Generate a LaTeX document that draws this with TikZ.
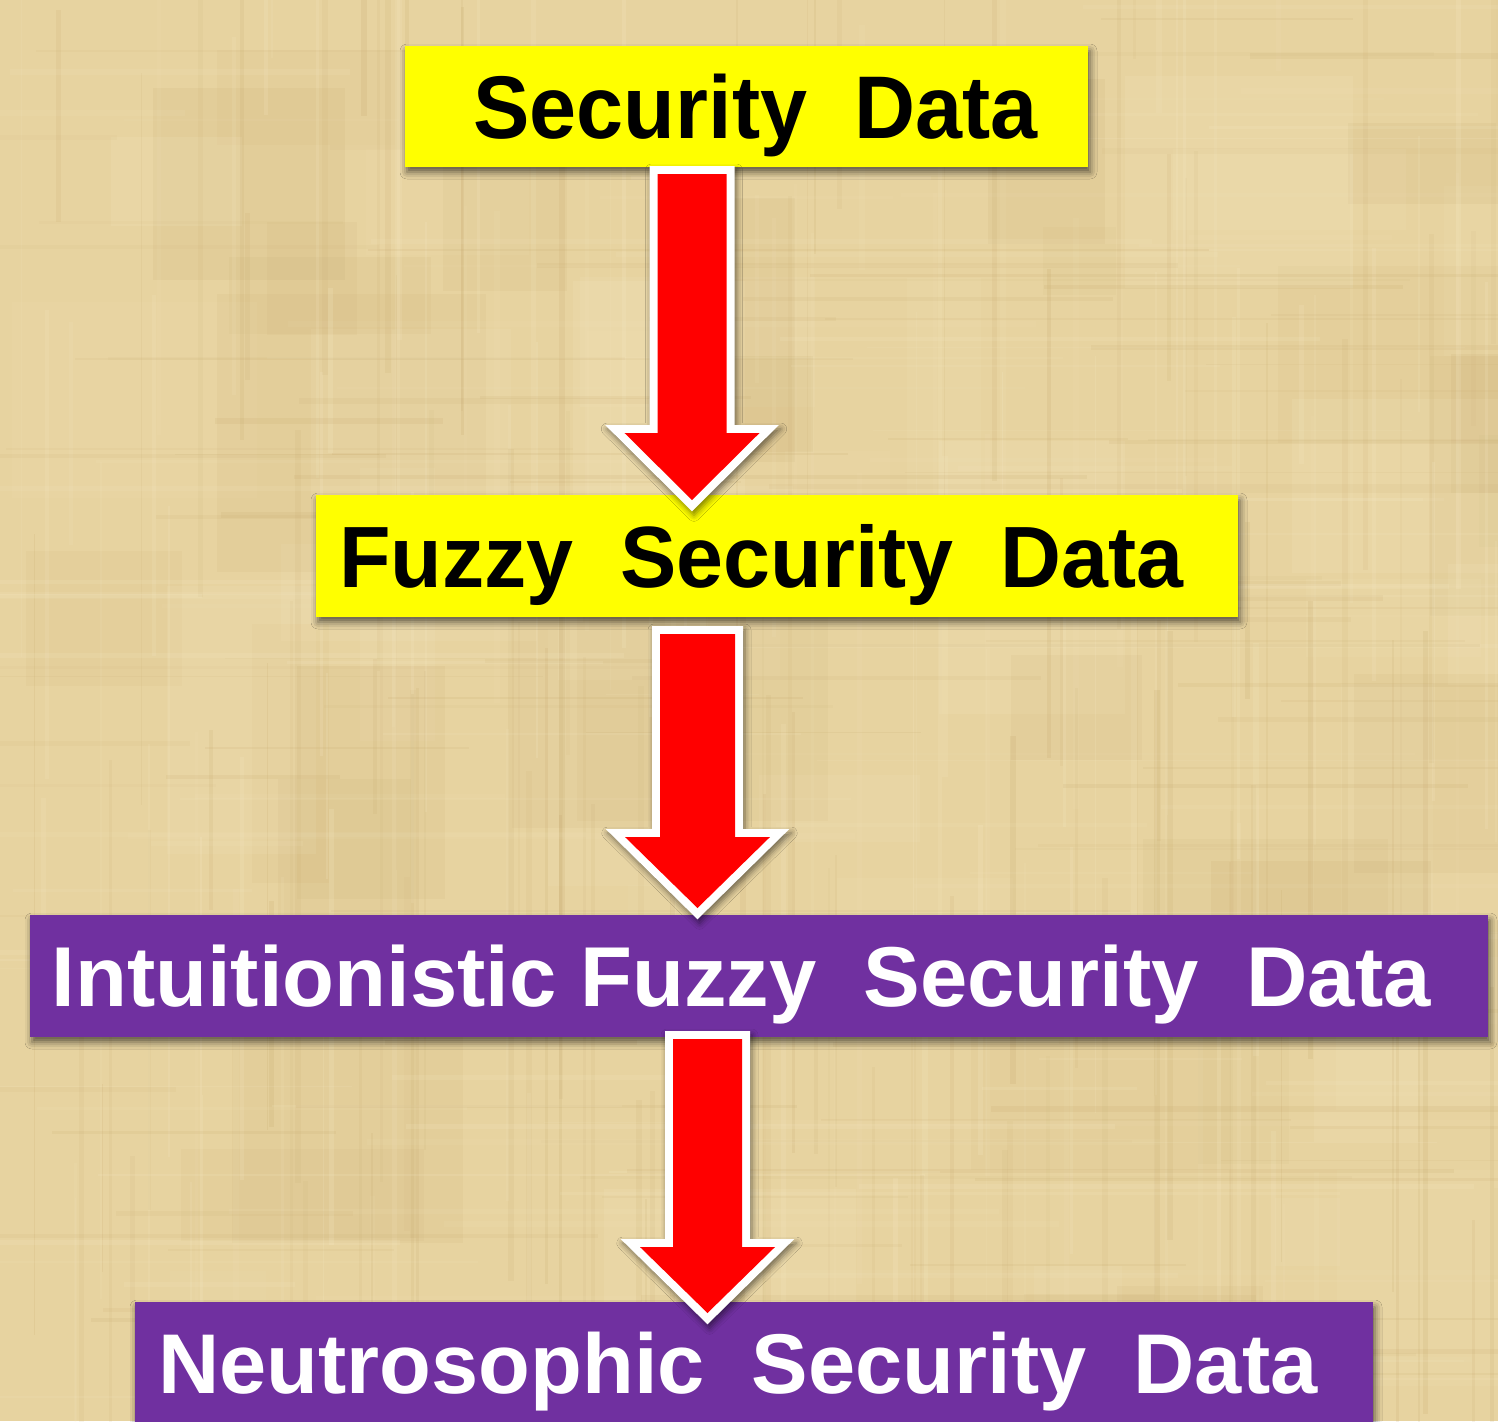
\documentclass[tikz,border=0pt]{standalone}
\usepackage{fontspec}
\setmainfont{Liberation Sans}
\newfontfamily\narrowA[FakeStretch=0.95]{Liberation Sans}
\newfontfamily\narrowB[FakeStretch=0.97]{Liberation Sans}
\usetikzlibrary{shadows.blur}

\definecolor{paper}{RGB}{231,211,160}
\definecolor{paperdark}{RGB}{196,166,106}
\definecolor{paperlight}{RGB}{249,238,204}
\definecolor{boxyellow}{RGB}{255,255,0}
\definecolor{boxpurple}{RGB}{112,48,160}
\definecolor{arrowred}{RGB}{255,0,0}

% block arrow: centre x, top, head base, tip, half shaft width, half head width
\newcommand\blockarrow[6]{%
  \fill[white, blur shadow={shadow xshift=1pt, shadow yshift=-2pt,
        shadow blur radius=3pt, shadow opacity=50}]
    ({#1-#5-8},{#2-8}) -- ({#1-#5-8},{#3-8}) -- ({#1-#6-19.3},{#3-8})
    -- (#1,{#4+11.3}) -- ({#1+#6+19.3},{#3-8}) -- ({#1+#5+8},{#3-8})
    -- ({#1+#5+8},{#2-8}) -- cycle;
  \fill[arrowred]
    ({#1-#5},#2) -- ({#1-#5},#3) -- ({#1-#6},#3) -- (#1,#4)
    -- ({#1+#6},#3) -- ({#1+#5},#3) -- ({#1+#5},#2) -- cycle;
}

\begin{document}
\begin{tikzpicture}[x=0.5pt, y=-0.5pt,
  box/.style={rectangle, inner sep=0pt, text depth=0pt,
    blur shadow={shadow xshift=1pt, shadow yshift=-2.5pt,
      shadow blur radius=3.5pt, shadow opacity=60}},
  yellowbox/.style={box, fill=boxyellow, text=black},
  purplebox/.style={box, fill=boxpurple, text=white},
]
\useasboundingbox (0,0) rectangle (1498,1421);

% parchment background
\fill[paper] (0,0) rectangle (1498,1421);
\begin{scope}
\clip (0,0) rectangle (1498,1421);
\pgfmathsetseed{42}
\foreach \k in {1,...,70}{
  \pgfmathsetmacro\xa{rnd*1498}
  \pgfmathsetmacro\ya{rnd*1421}
  \pgfmathsetmacro\wa{60+rnd*220}
  \pgfmathsetmacro\ha{60+rnd*220}
  \pgfmathsetmacro\op{0.05+rnd*0.08}
  \ifodd\k
    \fill[paperlight, opacity=\op] (\xa,\ya) rectangle ++(\wa,\ha);
  \else
    \fill[paperdark, opacity=\op] (\xa,\ya) rectangle ++(\wa,\ha);
  \fi
}
\foreach \k in {1,...,220}{
  \pgfmathsetmacro\xa{rnd*1498}
  \pgfmathsetmacro\ya{rnd*1421-200}
  \pgfmathsetmacro\wa{1+rnd*5}
  \pgfmathsetmacro\la{150+rnd*700}
  \pgfmathsetmacro\op{0.06+rnd*0.12}
  \ifodd\k
    \fill[paperlight, opacity=\op] (\xa,\ya) rectangle ++(\wa,\la);
  \else
    \fill[paperdark, opacity=\op] (\xa,\ya) rectangle ++(\wa,\la);
  \fi
}
\foreach \k in {1,...,220}{
  \pgfmathsetmacro\xa{rnd*1498-200}
  \pgfmathsetmacro\ya{rnd*1421}
  \pgfmathsetmacro\wa{1+rnd*5}
  \pgfmathsetmacro\la{150+rnd*700}
  \pgfmathsetmacro\op{0.05+rnd*0.10}
  \ifodd\k
    \fill[paperlight, opacity=\op] (\xa,\ya) rectangle ++(\la,\wa);
  \else
    \fill[paperdark, opacity=\op] (\xa,\ya) rectangle ++(\la,\wa);
  \fi
}
\end{scope}

% data boxes
\node[yellowbox, minimum width=341.5pt, minimum height=60.5pt,
      text height=31.9pt, font=\narrowA\bfseries\fontsize{44.5pt}{50pt}\selectfont]
  (sec) at (746.5,106.5) {\hspace*{9pt}Security~~Data};
\node[yellowbox, minimum width=461pt, minimum height=61pt,
      text height=31.1pt, font=\narrowB\bfseries\fontsize{43.5pt}{50pt}\selectfont]
  (fuzzy) at (777,556) {Fuzzy~~Security~~Data\hspace*{15.5pt}};
\node[purplebox, minimum width=729pt, minimum height=61pt,
      text height=30.4pt, font=\bfseries\fontsize{42.5pt}{50pt}\selectfont]
  (ifs) at (759,976) {Intuitionistic Fuzzy~~Security~~Data\hspace*{18pt}};
\node[purplebox, minimum width=619pt, minimum height=61pt,
      text height=30.4pt, font=\bfseries\fontsize{42.4pt}{50pt}\selectfont]
  (neut) at (754,1363) {Neutrosophic~~Security~~Data\hspace*{16pt}};

% block arrows between the boxes
\blockarrow{692}{174}{433}{500}{34.5}{67.5}
\blockarrow{697.5}{634}{837}{908}{37.5}{72.5}
\blockarrow{707.5}{1039}{1247}{1313}{34.5}{67.5}
\end{tikzpicture}
\end{document}
